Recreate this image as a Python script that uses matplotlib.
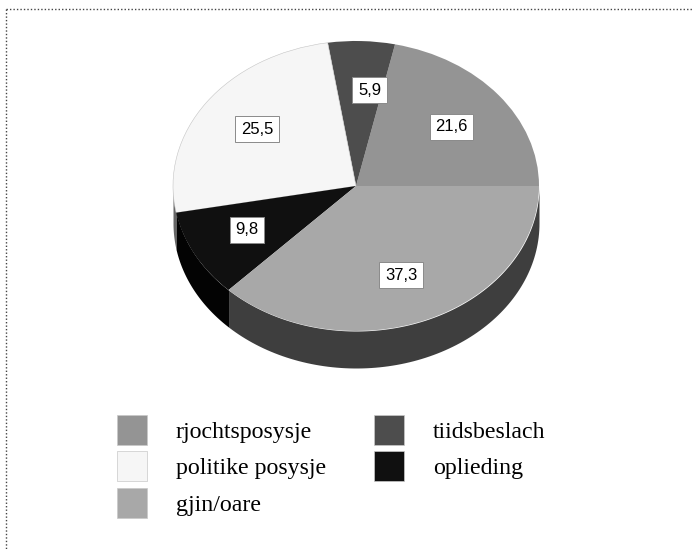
import numpy as np
import matplotlib
matplotlib.use("Agg")
import matplotlib.pyplot as plt
from matplotlib.lines import Line2D
from matplotlib.patches import Patch

categories = ["rjochtsposysje", "tiidsbeslach", "politike posysje", "oplieding", "gjin/oare"]
values = [21.6, 5.9, 25.5, 9.8, 37.3]
value_labels = ["21,6", "5,9", "25,5", "9,8", "37,3"]
top_colors = ["#949494", "#4d4d4d", "#f6f6f6", "#101010", "#a8a8a8"]
side_colors = ["#6a6a6a", "#333333", "#666666", "#030303", "#3e3e3e"]
legend_order = [0, 2, 4, 1, 3]

W, H = 692, 549
cx, cy = 356, 186
rx, ry = 183, 145
depth = 37 / ry

fig = plt.figure(figsize=(W / 100, H / 100), dpi=100)
ax = fig.add_axes([0, 0, 1, 1])

# one unit is rx pixels across and ry pixels down, so the unit pie becomes an ellipse
wedges, _ = ax.pie(values, colors=top_colors, startangle=0, counterclock=True, radius=1,
                   wedgeprops={"linewidth": 0, "zorder": 3})
wedges[2].set_edgecolor("#c4c4c4")
wedges[2].set_linewidth(0.4)
ax.set_aspect("auto")
ax.set_xlim(-cx / rx, (W - cx) / rx)
ax.set_ylim((cy - H) / ry, cy / ry)
ax.axis("off")

# side wall of the disc, only the front half shows
edges = np.cumsum([0] + values) / sum(values) * 2 * np.pi
for a, b, c in zip(edges[:-1], edges[1:], side_colors):
    a2, b2 = max(a, np.pi), min(b, 2 * np.pi)
    if b2 <= a2:
        continue
    t = np.linspace(a2, b2, 100)
    ax.fill_between(np.cos(t), np.sin(t), np.sin(t) - depth, color=c, lw=0, zorder=1)

# value boxes, placed by hand like the original
label_x = [0.522, 0.074, -0.541, -0.598, 0.246]
label_y = [0.41, 0.662, 0.393, -0.303, -0.617]
for x, y, lab in zip(label_x, label_y, value_labels):
    ax.text(x, y, lab, ha="center", va="center", fontsize=12,
            family="Liberation Sans", color="black", zorder=5,
            bbox={"boxstyle": "square,pad=0.33", "fc": "white", "ec": "#8a8a8a", "lw": 0.7})

handles = [Patch(facecolor=top_colors[i], edgecolor="#c8c8c8", linewidth=0.5, label=categories[i])
           for i in legend_order]
ax.legend(handles=handles, ncol=2, loc="upper left", bbox_to_anchor=(117 / W, 1 - 415 / H),
          bbox_transform=fig.transFigure, frameon=False, borderpad=0, borderaxespad=0,
          prop={"family": "Liberation Serif", "size": 17.2}, handlelength=1.26, handleheight=1.555,
          handletextpad=1.21, labelspacing=0.27, columnspacing=2.0)

# dotted frame
x0, y0 = 5.5 / W, 1 - 8.5 / H
for xs, ys in [([x0, 1], [y0, y0]), ([x0, x0], [y0, 0])]:
    fig.add_artist(Line2D(xs, ys, color="#444444", lw=1, linestyle=(0, (1, 1.5))))

fig.savefig("out.png", dpi=100)
